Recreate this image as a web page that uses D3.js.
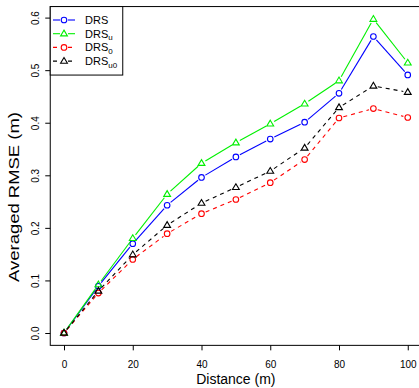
<!DOCTYPE html>
<html lang="en">
<head>
<meta charset="UTF-8">
<title>Averaged RMSE vs distance</title>
<style>
  html, body { margin: 0; padding: 0; background: #fff; }
  svg { display: block; font-family: "Liberation Sans", Arial, sans-serif; }
</style>
</head>
<body>
<div class="chart"></div>
<script src="https://cdn.jsdelivr.net/npm/d3@7/dist/d3.min.js"></script>
<script>
  const distances = [0, 10, 20, 30, 40, 50, 60, 70, 80, 90, 100];
  const drs   = [0, 0.089, 0.170, 0.243, 0.296, 0.335, 0.369, 0.401, 0.456, 0.564, 0.491];
  const drsU  = [0, 0.092, 0.180, 0.264, 0.323, 0.362, 0.398, 0.436, 0.480, 0.597, 0.514];
  const drs0  = [0, 0.076, 0.140, 0.189, 0.227, 0.254, 0.286, 0.330, 0.409, 0.427, 0.410];
  const drsU0 = [0, 0.080, 0.149, 0.205, 0.247, 0.277, 0.308, 0.352, 0.429, 0.470, 0.458];
  const xTicks = [0, 20, 40, 60, 80, 100];
  const yTicks = [0, 0.1, 0.2, 0.3, 0.4, 0.5, 0.6];

  const series = [
    { name: "DRS", sub: "",   values: drs,   color: "#0000ff", dash: null,  shape: "circle" },
    { name: "DRS", sub: "u",  values: drsU,  color: "#00f000", dash: null,  shape: "triangle" },
    { name: "DRS", sub: "0",  values: drs0,  color: "#ff0000", dash: "4,4", shape: "circle" },
    { name: "DRS", sub: "u0", values: drsU0, color: "#000000", dash: "4,4", shape: "triangle" }
  ];

  const width = 419, height = 388;
  const x = d3.scaleLinear().domain([0, 100]).range([64, 407.75]);
  const y = d3.scaleLinear().domain([0, 0.6]).range([333, 17.6]);
  const box = { left: x(-4), right: x(104), top: y(0.621), bottom: y(-0.0235) };

  const svg = d3.select(".chart").append("svg")
    .attr("width", width)
    .attr("height", height);

  // frame (runs off the right edge like the original)
  svg.append("rect")
    .attr("x", box.left).attr("y", box.top)
    .attr("width", box.right - box.left).attr("height", box.bottom - box.top)
    .attr("fill", "none").attr("stroke", "#000").attr("stroke-width", 1);

  const xAxis = svg.append("g")
    .attr("transform", `translate(0,${box.bottom})`)
    .call(d3.axisBottom(x).tickValues(xTicks).tickSize(5).tickPadding(10.5).tickFormat(d3.format("d")));
  xAxis.select(".domain").remove();
  xAxis.selectAll("text").attr("font-size", 10).attr("font-family", "Liberation Sans, Arial, sans-serif");

  const yAxis = svg.append("g")
    .attr("transform", `translate(${box.left},0)`)
    .call(d3.axisLeft(y).tickValues(yTicks).tickSize(5).tickFormat(d3.format(".1f")));
  yAxis.select(".domain").remove();
  yAxis.selectAll("text")
    .attr("font-size", 10)
    .attr("font-family", "Liberation Sans, Arial, sans-serif")
    .attr("text-anchor", "middle")
    .attr("dy", 0)
    .attr("x", 0)
    .attr("transform", "translate(-11,0) rotate(-90)");

  svg.append("text")
    .attr("x", (box.left + box.right) / 2)
    .attr("y", 383.5)
    .attr("text-anchor", "middle")
    .attr("font-size", 14)
    .text("Distance (m)");

  svg.append("text")
    .attr("transform", `translate(18.5,197) rotate(-90)`)
    .attr("text-anchor", "middle")
    .attr("font-size", 14)
    .attr("textLength", 170)
    .attr("lengthAdjust", "spacingAndGlyphs")
    .text("Averaged RMSE (m)");

  function drawMarker(g, cx, cy, s) {
    if (s.shape === "circle") {
      g.append("circle").attr("cx", cx).attr("cy", cy).attr("r", 2.8)
        .attr("fill", "none").attr("stroke", s.color).attr("stroke-width", 1.1);
    } else {
      const r = 3.6;
      g.append("path")
        .attr("d", `M${cx},${cy - r}L${cx + r * 0.95},${cy + r * 0.6}L${cx - r * 0.95},${cy + r * 0.6}Z`)
        .attr("fill", "none").attr("stroke", s.color).attr("stroke-width", 1.1);
    }
  }

  // lines with gaps at the points (R type = "b")
  const gap = 4.5;
  series.forEach(s => {
    const g = svg.append("g");
    const pts = distances.map((d, i) => [x(d), y(s.values[i])]);
    for (let i = 0; i < pts.length - 1; i++) {
      const [x1, y1] = pts[i], [x2, y2] = pts[i + 1];
      const len = Math.hypot(x2 - x1, y2 - y1);
      if (len <= 2 * gap) continue;
      const ux = (x2 - x1) / len, uy = (y2 - y1) / len;
      g.append("line")
        .attr("x1", x1 + ux * gap).attr("y1", y1 + uy * gap)
        .attr("x2", x2 - ux * gap).attr("y2", y2 - uy * gap)
        .attr("stroke", s.color).attr("stroke-width", 1.1)
        .attr("stroke-dasharray", s.dash);
    }
    pts.forEach(p => drawMarker(g, p[0], p[1], s));
  });

  // legend
  const legend = svg.append("g");
  legend.append("rect")
    .attr("x", box.left).attr("y", box.top)
    .attr("width", 72.5).attr("height", 68.5)
    .attr("fill", "#fff").attr("stroke", "#000").attr("stroke-width", 1);

  series.forEach((s, i) => {
    const ly = 20 + i * 13.7;
    legend.append("line")
      .attr("x1", 53).attr("x2", 75).attr("y1", ly).attr("y2", ly)
      .attr("stroke", s.color).attr("stroke-width", 1.1)
      .attr("stroke-dasharray", s.dash ? "4,3.5" : null);
    legend.append("rect").attr("x", 60).attr("y", ly - 4).attr("width", 8).attr("height", 8).attr("fill", "#fff");
    drawMarker(legend, 64, ly, s);
    const t = legend.append("text")
      .attr("x", 85).attr("y", ly + 4)
      .attr("font-size", 11)
      .text(s.name);
    if (s.sub) {
      t.append("tspan").attr("dy", 2.5).attr("font-size", 8).text(s.sub);
    }
  });
</script>
</body>
</html>
